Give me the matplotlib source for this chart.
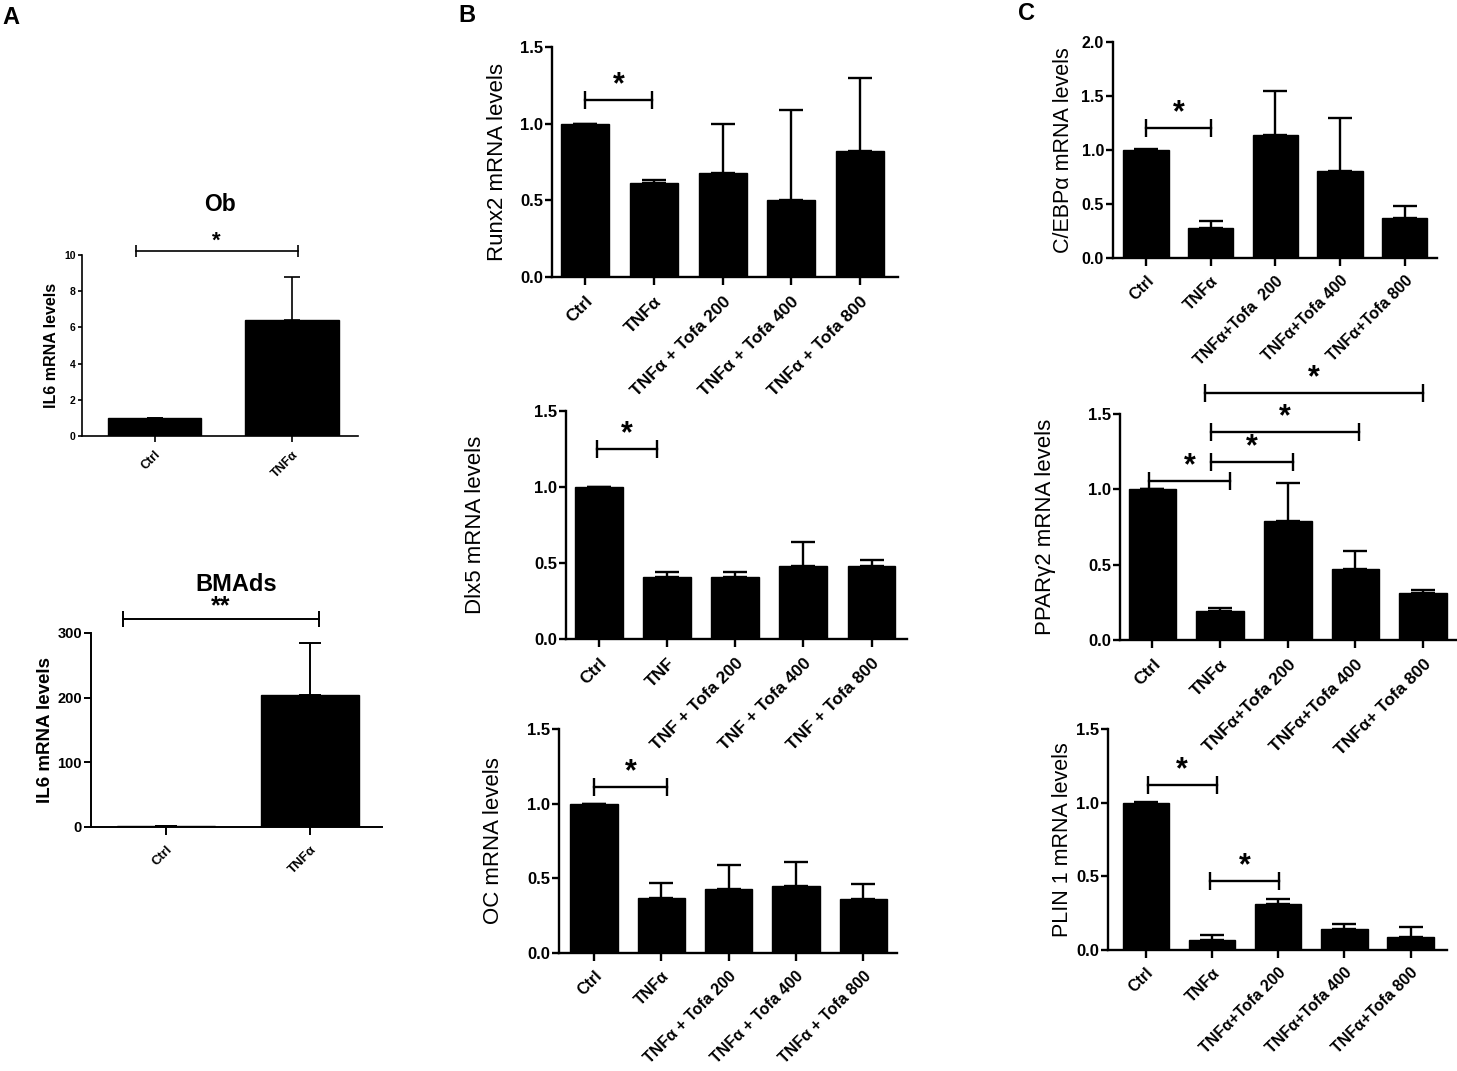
import matplotlib
matplotlib.use("Agg")
import matplotlib.pyplot as plt

plt.rcParams['font.family'] = ['Liberation Sans', 'DejaVu Sans']

W, H = 1457, 1071

# ---- data ----
ob_labels = ['Ctrl', 'TNF\u03b1']
ob_vals = [1.0, 6.4]
ob_err = [0.0, 2.4]

bm_labels = ['Ctrl', 'TNF\u03b1']
bm_vals = [1.5, 204]
bm_err = [0.0, 81]

runx2_labels = ['Ctrl', 'TNF\u03b1', 'TNF\u03b1 + Tofa 200', 'TNF\u03b1 + Tofa 400', 'TNF\u03b1 + Tofa 800']
runx2_vals = [1.0, 0.61, 0.68, 0.50, 0.82]
runx2_err = [0.0, 0.02, 0.32, 0.59, 0.48]

dlx5_labels = ['Ctrl', 'TNF', 'TNF + Tofa 200', 'TNF + Tofa 400', 'TNF + Tofa 800']
dlx5_vals = [1.0, 0.41, 0.41, 0.48, 0.48]
dlx5_err = [0.0, 0.03, 0.03, 0.16, 0.04]

oc_labels = ['Ctrl', 'TNF\u03b1', 'TNF\u03b1 + Tofa 200', 'TNF\u03b1 + Tofa 400', 'TNF\u03b1 + Tofa 800']
oc_vals = [1.0, 0.37, 0.43, 0.45, 0.36]
oc_err = [0.0, 0.10, 0.16, 0.16, 0.10]

cebpa_labels = ['Ctrl', 'TNF\u03b1', 'TNF\u03b1+Tofa  200', 'TNF\u03b1+Tofa 400', 'TNF\u03b1+Tofa 800']
cebpa_vals = [1.0, 0.28, 1.14, 0.81, 0.37]
cebpa_err = [0.005, 0.06, 0.41, 0.49, 0.11]

pparg_labels = ['Ctrl', 'TNF\u03b1', 'TNF\u03b1+Tofa 200', 'TNF\u03b1+Tofa 400', 'TNF\u03b1+ Tofa 800']
pparg_vals = [1.0, 0.19, 0.79, 0.47, 0.31]
pparg_err = [0.005, 0.02, 0.25, 0.12, 0.02]

plin1_labels = ['Ctrl', 'TNF\u03b1', 'TNF\u03b1+Tofa 200', 'TNF\u03b1+Tofa 400', 'TNF\u03b1+Tofa 800']
plin1_vals = [1.0, 0.065, 0.31, 0.14, 0.09]
plin1_err = [0.005, 0.035, 0.035, 0.035, 0.065]

# significance brackets: (x_start, x_end, y, text)
ob_sig = [(-0.14, 1.04, 10.2, '*')]
bm_sig = [(-0.30, 1.06, 322, '**')]
runx2_sig = [(0.0, 0.97, 1.155, '*')]
dlx5_sig = [(-0.03, 0.85, 1.25, '*')]
oc_sig = [(0.0, 1.08, 1.11, '*')]
cebpa_sig = [(0.0, 1.0, 1.20, '*')]
pparg_sig = [(-0.05, 1.15, 1.055, '*'), (0.87, 2.07, 1.18, '*'),
             (0.87, 3.05, 1.38, '*'), (0.77, 4.0, 1.64, '*')]
plin1_sig = [(0.03, 1.07, 1.12, '*'), (0.97, 2.02, 0.47, '*')]

fig = plt.figure(figsize=(W / 100, H / 100), dpi=100)


def bar_panel(box, labels, vals, errs, ylim, yticks, ylabel, sigs, xlim,
              tick_fs, ylab_fs, xt_fs, ylab_right, lw=1.7, capsize=8.5,
              star_fs=22, width=0.7, ylab_weight='normal', xt_pad=6):
    x0, y0, x1, y1 = box
    ax = fig.add_axes([x0 / W, 1 - y1 / H, (x1 - x0) / W, (y1 - y0) / H])
    x = list(range(len(vals)))
    ax.bar(x, vals, width=width, color='black', edgecolor='black', zorder=2)
    ax.errorbar(x, vals, yerr=[[0] * len(errs), errs], fmt='none', ecolor='black',
                elinewidth=lw, capsize=capsize, capthick=lw, zorder=3)
    ax.set_xlim(*xlim)
    ax.set_ylim(*ylim)
    ax.set_yticks(yticks)
    ax.set_xticks(x)
    ax.set_xticklabels(labels, rotation=45, ha='right', rotation_mode='anchor',
                       fontsize=xt_fs, fontweight='bold')
    for t in ax.get_yticklabels():
        t.set_fontsize(tick_fs)
        t.set_fontweight('bold')
    ax.set_ylabel(ylabel, fontsize=ylab_fs, fontweight=ylab_weight)
    ax.yaxis.set_label_coords((ylab_right - x0) / (x1 - x0), 0.5)
    for s in ['top', 'right']:
        ax.spines[s].set_visible(False)
    for s in ['left', 'bottom']:
        ax.spines[s].set_linewidth(lw)
    ax.tick_params(axis='both', width=lw, length=5, direction='out')
    ax.tick_params(axis='x', length=6, pad=xt_pad)
    ax.tick_params(axis='y', pad=1.5)
    ax.patch.set_alpha(0)
    for xs, xe, y, txt in sigs:
        ax.plot([xs, xe], [y, y], color='black', lw=lw, clip_on=False,
                marker='|', markersize=capsize * 1.5, markeredgewidth=lw, zorder=4)
        ax.text((xs + xe) / 2, y, txt, ha='center', va='bottom',
                fontsize=star_fs, fontweight='bold', clip_on=False)
    return ax


# ---- Panel A ----
ax = bar_panel((82, 255, 358, 436), ob_labels, ob_vals, ob_err, (0, 10),
               [0, 2, 4, 6, 8, 10], 'IL6 mRNA levels', ob_sig, (-0.53, 1.48),
               tick_fs=7.5, ylab_fs=11.5, xt_fs=9, ylab_right=59, lw=1.2,
               capsize=5.5, star_fs=16, width=0.68, ylab_weight='bold', xt_pad=5)
ax.tick_params(axis='x', length=4)
ax.tick_params(axis='y', length=3)
ax.set_title('Ob', fontsize=16.5, fontweight='bold', pad=32)

ax = bar_panel((91, 633, 382, 827), bm_labels, bm_vals, bm_err, (0, 300),
               [0, 100, 200, 300], 'IL6 mRNA levels', bm_sig, (-0.52, 1.5),
               tick_fs=10.5, ylab_fs=13.5, xt_fs=9.5, ylab_right=54, lw=1.4,
               capsize=8, star_fs=18, width=0.68, ylab_weight='bold')
ax.set_title('BMAds', fontsize=17, fontweight='bold', pad=30)

# ---- Panel B ----
bar_panel((552, 47, 898, 277), runx2_labels, runx2_vals, runx2_err, (0, 1.5),
          [0, 0.5, 1.0, 1.5], 'Runx2 mRNA levels', runx2_sig, (-0.48, 4.55),
          tick_fs=12, ylab_fs=16, xt_fs=12.5, ylab_right=508)

bar_panel((566, 411, 907, 639), dlx5_labels, dlx5_vals, dlx5_err, (0, 1.5),
          [0, 0.5, 1.0, 1.5], 'Dlx5 mRNA levels', dlx5_sig, (-0.48, 4.52),
          tick_fs=12, ylab_fs=16, xt_fs=12.5, ylab_right=486)

bar_panel((559, 729, 897, 953), oc_labels, oc_vals, oc_err, (0, 1.5),
          [0, 0.5, 1.0, 1.5], 'OC mRNA levels', oc_sig, (-0.52, 4.5),
          tick_fs=12, ylab_fs=16, xt_fs=11.5, ylab_right=504, xt_pad=5)

# ---- Panel C ----
bar_panel((1113, 42, 1437, 258), cebpa_labels, cebpa_vals, cebpa_err, (0, 2.0),
          [0, 0.5, 1.0, 1.5, 2.0], 'C/EBP\u03b1 mRNA levels', cebpa_sig, (-0.51, 4.5),
          tick_fs=11.5, ylab_fs=15.5, xt_fs=11.5, ylab_right=1074, xt_pad=5)

bar_panel((1120, 414, 1457, 640), pparg_labels, pparg_vals, pparg_err, (0, 1.5),
          [0, 0.5, 1.0, 1.5], 'PPAR\u03b32 mRNA levels', pparg_sig, (-0.48, 4.5),
          tick_fs=12, ylab_fs=16, xt_fs=12.5, ylab_right=1056)

bar_panel((1108, 729, 1447, 950), plin1_labels, plin1_vals, plin1_err, (0, 1.5),
          [0, 0.5, 1.0, 1.5], 'PLIN 1 mRNA levels', plin1_sig, (-0.57, 4.55),
          tick_fs=12, ylab_fs=15.5, xt_fs=11.5, ylab_right=1073, xt_pad=5)

# panel letters
fig.text(2 / W, 1 - 18 / H, 'A', fontsize=17, fontweight='bold', va='center')
fig.text(458 / W, 1 - 16 / H, 'B', fontsize=17, fontweight='bold', va='center')
fig.text(1018 / W, 1 - 14 / H, 'C', fontsize=17, fontweight='bold', va='center')

fig.savefig('out.png', dpi=100, facecolor='white')
